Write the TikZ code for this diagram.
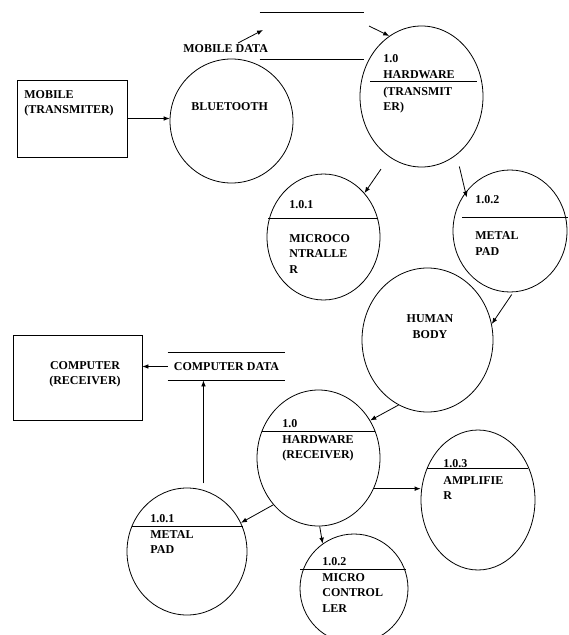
\documentclass[tikz,border=0pt]{standalone}
\usepackage{fontspec}
\setmainfont{Liberation Serif}
\usetikzlibrary{arrows.meta, shapes.geometric, calc}

\tikzset{
  bubble/.style 2 args={draw, ellipse, inner sep=0pt, minimum width=#1*0.75pt, minimum height=#2*0.75pt},
  entity/.style 2 args={draw, rectangle, inner sep=0pt, minimum width=#1*0.75pt, minimum height=#2*0.75pt},
  store/.style 2 args={rectangle, inner sep=0pt, minimum width=#1*0.75pt, minimum height=#2*0.75pt},
  txt/.style={inner sep=0pt, anchor=base west, align=left},
  flow/.style={-{Latex[length=4.5pt,width=3.5pt]}},
}

\begin{document}
\begin{tikzpicture}[x=0.75pt, y=-0.75pt, line width=0.6pt,
    every node/.style={font=\bfseries\fontsize{9pt}{11.6pt}\selectfont}]
\clip (0,0) rectangle (568,635);

% external entities
\node[entity={110}{77}] (mob) at (72,118.5) {};
\node[entity={129}{85}] (comp) at (77.5,377.5) {};

% processes
\node[bubble={123}{124}] (bt) at (231.5,121) {};
\node[bubble={123}{141}] (hwt) at (421.5,96.5) {};
\node[bubble={113}{126}] (mc) at (323.5,237) {};
\node[bubble={114}{122}] (mp) at (510,231) {};
\node[bubble={131}{144}] (hb) at (427.5,340) {};
\node[bubble={123}{136}] (hwr) at (318.5,458) {};
\node[bubble={114}{140}] (amp) at (478,500) {};
\node[bubble={120}{127}] (mpr) at (187,551.5) {};
\node[bubble={108}{109}] (mcr) at (354,588.5) {};

% data stores
\node[store={104}{46}] (mds) at (312,36) {};
\node[store={117}{27}] (cds) at (226.5,366.5) {COMPUTER DATA};
\draw (mds.north west) -- (mds.north east);
\draw (mds.south west) -- (mds.south east);
\draw (cds.north west) -- (cds.north east);
\draw (cds.south west) -- (cds.south east);

% dividers
\draw (370,81) -- (477,81);
\draw (268,218) -- (378,218);
\draw (462,217) -- (568,217);
\draw (262,431) -- (375,431);
\draw (427,468) -- (528,468);
\draw (132,526) -- (243,526);
\draw (300,569) -- (406,569);

% labels (multi-line nodes sit on their last line)
\node[txt] (mobl) at (24,113.5) {MOBILE\\(TRANSMITER)};
\node[txt] (btl) at (191,110) {BLUETOOTH};
\node[txt] (mdl) at (183,53) {MOBILE DATA};
\node[txt] (hwtn) at (383,63) {1.0};
\node[txt] (hwtl) at (383,79) {HARDWARE};
\node[txt] (hwtl2) at (383,110.5) {(TRANSMIT\\ER)};
\node[txt] (mcn) at (289,208) {1.0.1};
\node[txt] (mcl) at (289,273) {MICROCO\\NTRALLE\\R};
\node[txt] (mpn) at (475,203) {1.0.2};
\node[txt] (mpl) at (475,255) {METAL\\PAD};
\node[txt, anchor=base, align=center] (hbl) at (430,338) {HUMAN\\BODY};
\node[txt, anchor=base, align=center] (compl) at (85,384.5) {COMPUTER\\(RECEIVER)};
\node[txt] (hwrn) at (282,427) {1.0};
\node[txt] (hwrl) at (282,458.5) {HARDWARE\\(RECEIVER)};
\node[txt] (ampn) at (443,467) {1.0.3};
\node[txt] (ampl) at (443,499.5) {AMPLIFIE\\R};
\node[txt] (mprn) at (150,522) {1.0.1};
\node[txt] (mprl) at (150,553.5) {METAL\\PAD};
\node[txt] (mcrn) at (322,565) {1.0.2};
\node[txt] (mcrl) at (322,612) {MICRO\\CONTROL\\LER};

% flows
\coordinate (btout) at (238,43);
\coordinate (mdin) at (263,30);
\coordinate (mdout) at (369,26);
\draw[flow] (mob.east) -- (mob.east -| bt.west);
\draw[flow] (btout) -- (mdin);
\draw[flow] (mdout) -- (hwt.118);
\draw[flow, shorten <=11pt] (hwt.-118) -- (mc.47);
\draw[flow, shorten <=9pt, shorten >=-4pt] (hwt.-59) -- (mp.139);
\draw[flow, shorten <=2pt] (mp.-87) -- (hb.14);
\draw[flow] (hb.-114) -- (hwr.36);
\draw[flow] (hwr.-29) -- (hwr.-29 -| amp.west);
\draw[flow] (hwr.-134) -- (mpr.28);
\draw[flow] (hwr.-89) -- (mcr.125);
\draw[flow, shorten <=5pt] (mpr.75) -- (mpr.75 |- cds.south);
\draw[flow] (cds.west) -- (cds.west -| comp.east);
\end{tikzpicture}
\end{document}
